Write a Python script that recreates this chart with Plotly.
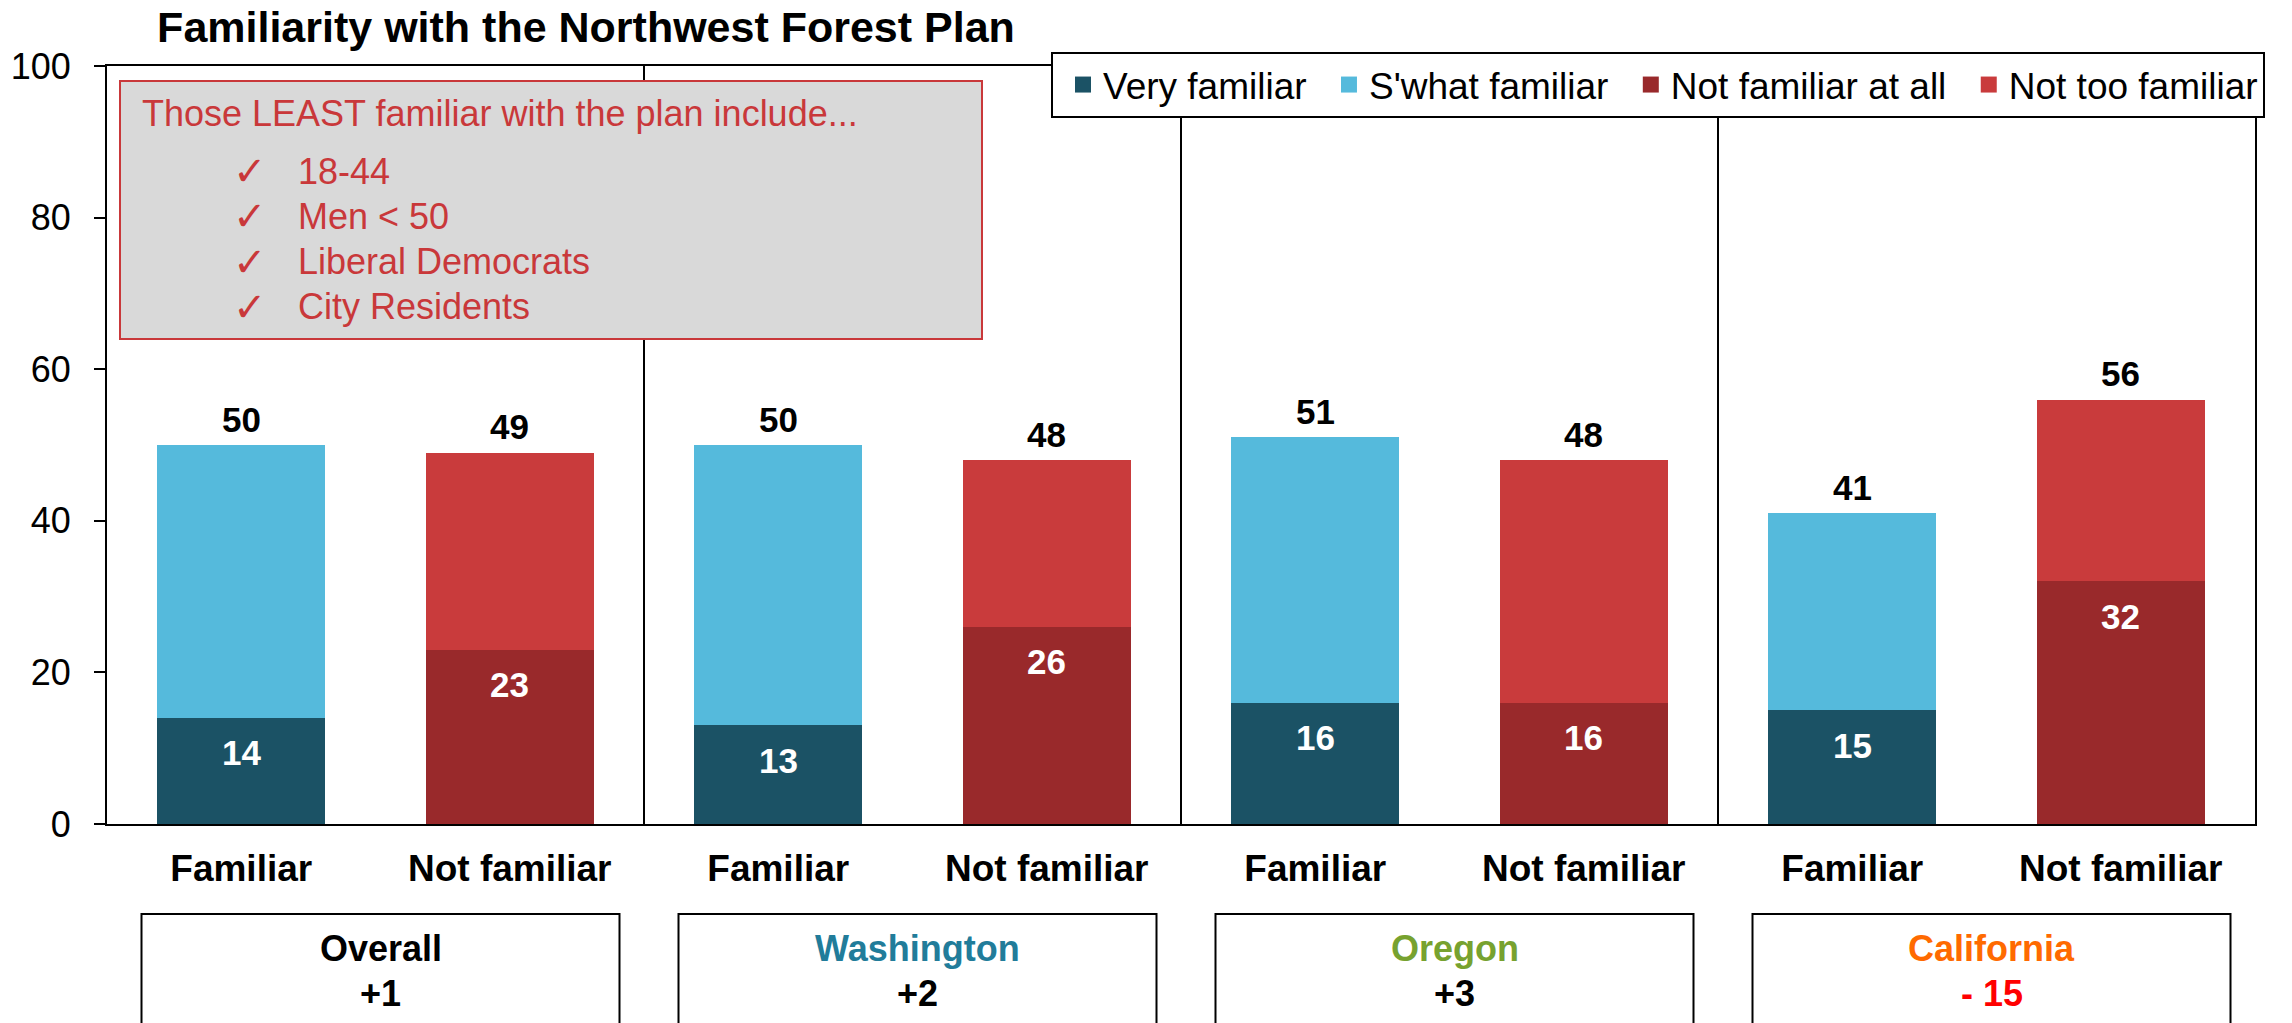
import plotly.graph_objects as go

# ---- data -------------------------------------------------------------
tick_labels = ["Familiar", "Not familiar"] * 4
groups = ["Overall", "Washington", "Oregon", "California"]
group_colors = ["#000000", "#217C9A", "#77A22F", "#FF6A00"]
net_labels = ["+1", "+2", "+3", "- 15"]
net_colors = ["#000000", "#000000", "#000000", "#FF0000"]

very_familiar = [14, 13, 16, 15]
swhat_familiar = [36, 37, 35, 26]
not_familiar_at_all = [23, 26, 16, 32]
not_too_familiar = [26, 22, 32, 24]

series_names = ["Very familiar", "S'what familiar", "Not familiar at all", "Not too familiar"]

callout_title = "Those LEAST familiar with the plan include..."
callout_items = ["18-44", "Men < 50", "Liberal Democrats", "City Residents"]

# ---- styling ----------------------------------------------------------
W, H = 2292, 1023
L, R, T, B = 107, 2255, 66, 824
FONT = "Arial, Liberation Sans, sans-serif"
C_VERY = "#1B5265"
C_SWHAT = "#55BADC"
C_NOTALL = "#99292B"
C_NOTTOO = "#C93B3C"
C_CALLOUT = "#C9383A"


def px_x(px):
    return (px - L) / (R - L)


def px_y(py):
    return (B - py) / (B - T)


fam_x = [0, 2, 4, 6]
notfam_x = [1, 3, 5, 7]

fig = go.Figure()
bar_specs = [
    (series_names[0], fam_x, very_familiar, C_VERY),
    (series_names[1], fam_x, swhat_familiar, C_SWHAT),
    (series_names[2], notfam_x, not_familiar_at_all, C_NOTALL),
    (series_names[3], notfam_x, not_too_familiar, C_NOTTOO),
]
for name, xs, ys, color in bar_specs:
    fig.add_trace(go.Bar(
        x=xs, y=ys, name=name, width=0.625,
        marker=dict(color=color, line=dict(width=0)),
        showlegend=False, hoverinfo="skip",
    ))
# legend entries with larger square swatches (a trailing thin space
# widens the gap between neighbouring entries)
for k, (name, _, _, color) in enumerate(bar_specs):
    label = name + ("\u2009" if k < len(bar_specs) - 1 else "")
    fig.add_trace(go.Scatter(
        x=[None], y=[None], mode="markers", name=label,
        marker=dict(symbol="square", size=16, color=color),
        showlegend=True,
    ))

annotations = []
# totals above each stack, base values inside each stack
for i in range(4):
    tot_f = very_familiar[i] + swhat_familiar[i]
    tot_n = not_familiar_at_all[i] + not_too_familiar[i]
    for xv, tot, base in ((fam_x[i], tot_f, very_familiar[i]),
                          (notfam_x[i], tot_n, not_familiar_at_all[i])):
        annotations.append(dict(
            x=xv, y=tot, xref="x", yref="y", text=str(tot), showarrow=False,
            yshift=26, yanchor="middle",
            font=dict(family=FONT, size=35, color="#000000", weight=700)))
        annotations.append(dict(
            x=xv, y=base, xref="x", yref="y", text=str(base), showarrow=False,
            yshift=-35, yanchor="middle",
            font=dict(family=FONT, size=35, color="#FFFFFF", weight=700)))

shapes = []
# group separators
for sx in (1.5, 3.5, 5.5):
    shapes.append(dict(type="line", xref="x", yref="y", x0=sx, x1=sx, y0=0, y1=100,
                       line=dict(color="#000000", width=2)))

# callout box
shapes.append(dict(type="rect", xref="paper", yref="paper",
                   x0=px_x(120), x1=px_x(982), y0=px_y(339), y1=px_y(81),
                   fillcolor="#D9D9D9", line=dict(color=C_CALLOUT, width=2)))
annotations.append(dict(
    x=px_x(140), y=px_y(113), xref="paper", yref="paper", text=callout_title,
    showarrow=False, xanchor="left", yanchor="middle",
    font=dict(family=FONT, size=36, color=C_CALLOUT)))
for k, item in enumerate(callout_items):
    yy = px_y(171 + 45.3 * k)
    annotations.append(dict(
        x=px_x(250), y=yy, xref="paper", yref="paper", text="\u2713",
        showarrow=False, xanchor="center", yanchor="middle",
        font=dict(family="DejaVu Sans, " + FONT, size=40, color=C_CALLOUT, weight=700)))
    annotations.append(dict(
        x=px_x(296), y=yy, xref="paper", yref="paper", text=item,
        showarrow=False, xanchor="left", yanchor="middle",
        font=dict(family=FONT, size=36, color=C_CALLOUT)))

# group boxes below the axis
for g in range(4):
    cx = L + (R - L) / 4 * (g + 0.5) + 5
    shapes.append(dict(type="rect", xref="paper", yref="paper",
                       x0=px_x(cx - 239), x1=px_x(cx + 239),
                       y0=px_y(1040), y1=px_y(914),
                       line=dict(color="#000000", width=2), fillcolor="rgba(0,0,0,0)"))
    annotations.append(dict(
        x=px_x(cx), y=px_y(948), xref="paper", yref="paper", text=groups[g],
        showarrow=False, xanchor="center", yanchor="middle",
        font=dict(family=FONT, size=36, color=group_colors[g], weight=700)))
    annotations.append(dict(
        x=px_x(cx), y=px_y(993), xref="paper", yref="paper", text=net_labels[g],
        showarrow=False, xanchor="center", yanchor="middle",
        font=dict(family=FONT, size=36, color=net_colors[g], weight=700)))

fig.update_layout(
    width=W, height=H,
    margin=dict(l=L, r=W - R, t=T, b=H - B, pad=0, autoexpand=False),
    paper_bgcolor="#FFFFFF", plot_bgcolor="#FFFFFF",
    barmode="stack",
    font=dict(family=FONT, color="#000000"),
    title=dict(text="Familiarity with the Northwest Forest Plan",
               x=px_x(586), xref="paper", xanchor="center",
               y=1 - 27 / H, yanchor="middle",
               font=dict(family=FONT, size=43, color="#000000", weight=700)),
    xaxis=dict(range=[-0.5, 7.5], tickmode="array", tickvals=list(range(8)),
               ticktext=tick_labels, ticks="", showgrid=False, zeroline=False,
               showline=True, linecolor="#000000", linewidth=2, mirror=True,
               tickfont=dict(family=FONT, size=37, color="#000000", weight=700),
               ticklabelstandoff=11, fixedrange=True),
    yaxis=dict(range=[0, 100], tickmode="array", tickvals=[0, 20, 40, 60, 80, 100],
               ticks="outside", ticklen=11, tickwidth=2, tickcolor="#000000",
               showgrid=False, zeroline=False,
               showline=True, linecolor="#000000", linewidth=2, mirror=True,
               tickfont=dict(family=FONT, size=36, color="#000000"),
               ticklabelstandoff=16, fixedrange=True),
    legend=dict(orientation="h", x=px_x(1051), xanchor="left",
                y=px_y(52), yanchor="top", traceorder="normal",
                indentation=10,
                bgcolor="#FFFFFF", bordercolor="#000000", borderwidth=2,
                font=dict(family=FONT, size=37, color="#000000"),
                itemsizing="trace"),
    shapes=shapes,
    annotations=annotations,
)

fig.write_html("out.html")
